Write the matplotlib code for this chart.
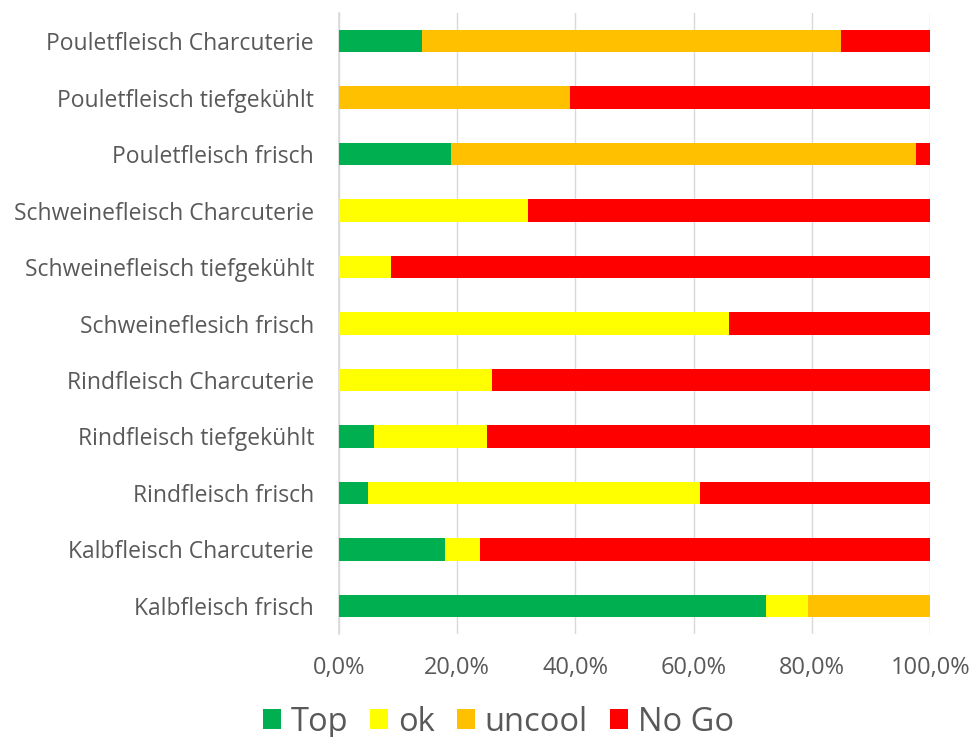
import numpy as np
import matplotlib.pyplot as plt
from matplotlib.ticker import FuncFormatter

plt.rcParams["font.family"] = ["Open Sans", "DejaVu Sans"]

# categories bottom -> top
categories = [
    "Kalbfleisch frisch",
    "Kalbfleisch Charcuterie",
    "Rindfleisch frisch",
    "Rindfleisch tiefgekühlt",
    "Rindfleisch Charcuterie",
    "Schweineflesich frisch",
    "Schweinefleisch tiefgekühlt",
    "Schweinefleisch Charcuterie",
    "Pouletfleisch frisch",
    "Pouletfleisch tiefgekühlt",
    "Pouletfleisch Charcuterie",
]

# shares in percent
top = [72.2, 18.0, 4.9, 5.9, 0.0, 0.0, 0.0, 0.0, 18.9, 0.0, 14.0]
ok = [7.2, 5.9, 56.1, 19.1, 25.9, 65.9, 8.8, 32.0, 0.0, 0.0, 0.0]
uncool = [20.5, 0.0, 0.0, 0.0, 0.0, 0.0, 0.0, 0.0, 78.7, 39.0, 70.9]
nogo = [0.1, 76.1, 39.0, 75.0, 74.1, 34.1, 91.2, 68.0, 2.4, 61.0, 15.1]

series = ["Top", "ok", "uncool", "No Go"]
colors = ["#00B050", "#FFFF00", "#FFC000", "#FF0000"]
values = [top, ok, uncool, nogo]

text_col = "#595959"
grid_col = "#D9D9D9"

fig = plt.figure(figsize=(9.71, 7.37), dpi=100)
ax = fig.add_axes([0.349, 0.1397, 0.609, 0.8427])

y = np.arange(len(categories))
left = np.zeros(len(categories))
for name, col, vals in zip(series, colors, values):
    v = np.array(vals) / 100.0
    ax.barh(y, v, left=left, height=0.4, color=col, label=name, zorder=3)
    left += v

ax.set_xlim(0, 1)
ax.set_ylim(-0.5, len(categories) - 0.5)
ax.set_xticks(np.arange(0, 1.01, 0.2))
ax.xaxis.set_major_formatter(FuncFormatter(lambda x, p: f"{x*100:.1f}%".replace(".", ",")))
ax.set_yticks(y)
ax.set_yticklabels(categories)

ax.tick_params(axis="both", length=0, colors=text_col)
ax.tick_params(axis="x", pad=16, labelsize=17)
ax.tick_params(axis="y", pad=18, labelsize=16.5)

ax.grid(axis="x", color=grid_col, linewidth=1, zorder=0)
for s in ["top", "right", "bottom"]:
    ax.spines[s].set_visible(False)
ax.spines["left"].set_color(grid_col)
ax.spines["left"].set_linewidth(1.2)

leg = fig.legend(
    loc="center", bbox_to_anchor=(0.513, 0.02), ncol=4, frameon=False,
    fontsize=23.5, handlelength=0.55, handleheight=0.55, handletextpad=0.3,
    columnspacing=0.68, labelcolor=text_col,
)

fig.savefig("out.png", dpi=100)
